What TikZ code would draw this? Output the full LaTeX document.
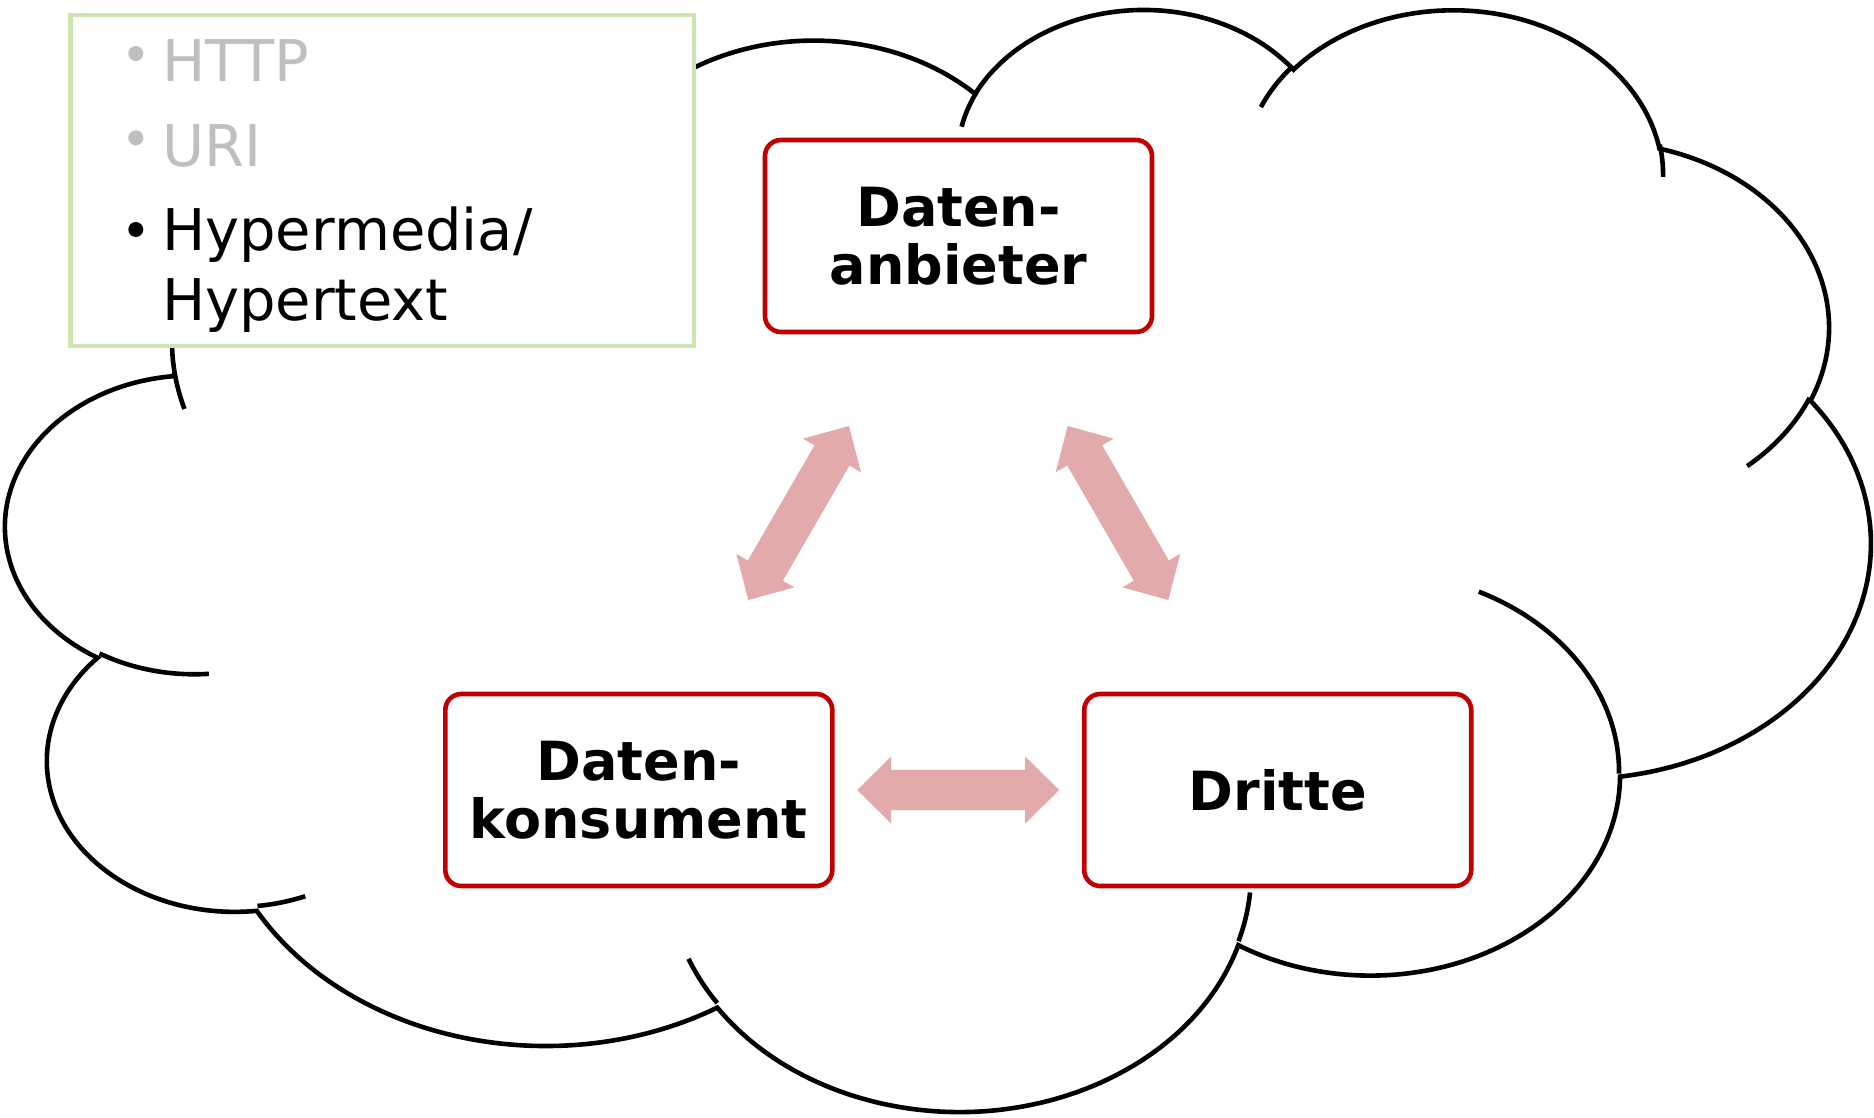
\documentclass[tikz,border=0pt]{standalone}
\usepackage{fontspec}
\setmainfont{DejaVu Sans}
\usetikzlibrary{calc}
\definecolor{boxred}{RGB}{192,0,0}
\definecolor{boxgreen}{RGB}{204,228,178}
\definecolor{arrowpink}{RGB}{226,170,170}
\definecolor{bulletgray}{RGB}{191,191,191}
\newcommand\blockarrow[2]{%
  \coordinate (#1h) at ($(#1)!34pt!(#2)$);
  \coordinate (#2h) at ($(#2)!34pt!(#1)$);
  \fill[arrowpink] (#1)
    -- ($(#1h)!33.5pt!90:(#2)$)
    -- ($(#1h)!20.2pt!90:(#2)$)
    -- ($(#2h)!20.2pt!-90:(#1)$)
    -- ($(#2h)!33.5pt!-90:(#1)$)
    -- (#2)
    -- ($(#2h)!33.5pt!90:(#1)$)
    -- ($(#2h)!20.2pt!90:(#1)$)
    -- ($(#1h)!20.2pt!-90:(#2)$)
    -- ($(#1h)!33.5pt!-90:(#2)$)
    -- cycle;}
\begin{document}
\begin{tikzpicture}[x=1pt,y=-1pt,
  cloudline/.style={draw=black,line width=4.6pt},
  rolebox/.style={draw=boxred,line width=4.6pt,fill=white,rounded corners=16pt,
    minimum width=387pt,minimum height=192pt,align=center,inner sep=0pt,
    font=\fontsize{54}{57.5}\selectfont\bfseries},
  listbox/.style={draw=boxgreen,line width=4.4pt,fill=white,minimum width=623.5pt,
    minimum height=330.7pt,inner sep=0pt},
  listtext/.style={anchor=base west,inner sep=0pt,font=\fontsize{57.5}{70}\selectfont},
]
\useasboundingbox (0,0) rectangle (1874,1117);
\fill[white] (0,0) rectangle (1874,1117);
% cloud
\begin{scope}[shift={(6.4,6.3)},x=4.3141pt,y=-2.5500pt]
\draw[cloudline] (39.00,143.70)
 arc[start angle=172.25, end angle=300.37, x radius=67.53, y radius=91.90]
 arc[start angle=-152.02, end angle=-45.43, x radius=53.33, y radius=72.67]
 arc[start angle=-153.48, end angle=-37.32, x radius=43.65, y radius=59.45]
 arc[start angle=-139.69, end angle=-10.21, x radius=48.57, y radius=65.95]
 arc[start angle=-74.77, end angle=23.21, x radius=53.33, y radius=72.73]
 arc[start angle=-37.52, end angle=81.86, x radius=67.75, y radius=92.20]
 arc[start angle=0.46, end angle=121.98, x radius=57.85, y radius=78.67]
 arc[start angle=16.85, end angle=146.25, x radius=67.52, y radius=92.15]
 arc[start angle=58.99, end angle=150.19, x radius=77.20, y radius=105.43]
 arc[start angle=83.31, end angle=223.13, x radius=43.60, y radius=59.18]
 arc[start angle=120.36, end angle=264.11, x radius=43.45, y radius=59.45]
 -- cycle;
\draw[cloudline] (46.93,261.77) arc[start angle=85.55, end angle=120.36, x radius=43.45, y radius=59.45];
\draw[cloudline] (69.28,348.99) arc[start angle=68.24, end angle=83.31, x radius=43.60, y radius=59.18];
\draw[cloudline] (164.78,390.90) arc[start angle=146.25, end angle=158.47, x radius=67.52, y radius=92.15];
\draw[cloudline] (288.27,347.51) arc[start angle=4.74, end angle=16.85, x radius=67.52, y radius=92.15];
\draw[cloudline] (341.29,229.54) arc[start angle=-64.03, end angle=0.46, x radius=57.85, y radius=78.67];
\draw[cloudline] (417.98,153.54) arc[start angle=23.21, end angle=49.64, x radius=53.33, y radius=72.73];
\draw[cloudline] (383.24,54.26) arc[start angle=-10.21, end angle=0.82, x radius=48.57, y radius=65.95];
\draw[cloudline] (290.78,39.52) arc[start angle=-156.28, end angle=-139.69, x radius=48.57, y radius=65.95];
\draw[cloudline] (221.41,47.20) arc[start angle=-167.73, end angle=-153.48, x radius=43.65, y radius=59.45];
\draw[cloudline] (140.00,51.92) arc[start angle=-59.63, end angle=-45.71, x radius=67.53, y radius=91.90];
\draw[cloudline] (41.27,157.89) arc[start angle=163.19, end angle=172.25, x radius=67.53, y radius=91.90];
\end{scope}
% list box
\node[listbox] (list) at (382.25,180.35) {};
\fill[bulletgray] (135.8,53.5) circle (7.5);
\fill[bulletgray] (135.8,137.8) circle (7.5);
\fill[black] (135.8,229.5) circle (7.5);
\node[listtext,text=bulletgray] (http) at (162,81.7) {HTTP};
\node[listtext,text=bulletgray] (uri) at (162,166) {URI};
\node[listtext] (hyp1) at (162,250.7) {Hypermedia/};
\node[listtext] (hyp2) at (162,320.7) {Hypertext};
% role boxes
\node[rolebox] (anb) at (958.5,236) {Daten-\\anbieter};
\node[rolebox] (kon) at (638.8,790) {Daten-\\konsument};
\node[rolebox] (dri) at (1277.7,790) {Dritte};
% arrows
\coordinate (hl) at (857.2,790);
\coordinate (hr) at (1059.2,790);
\coordinate (dlb) at (748.3,600);
\coordinate (dlt) at (849,426);
\coordinate (drt) at (1067.7,426);
\coordinate (drb) at (1168.3,600);
\blockarrow{hl}{hr}
\blockarrow{dlb}{dlt}
\blockarrow{drt}{drb}
\end{tikzpicture}
\end{document}
